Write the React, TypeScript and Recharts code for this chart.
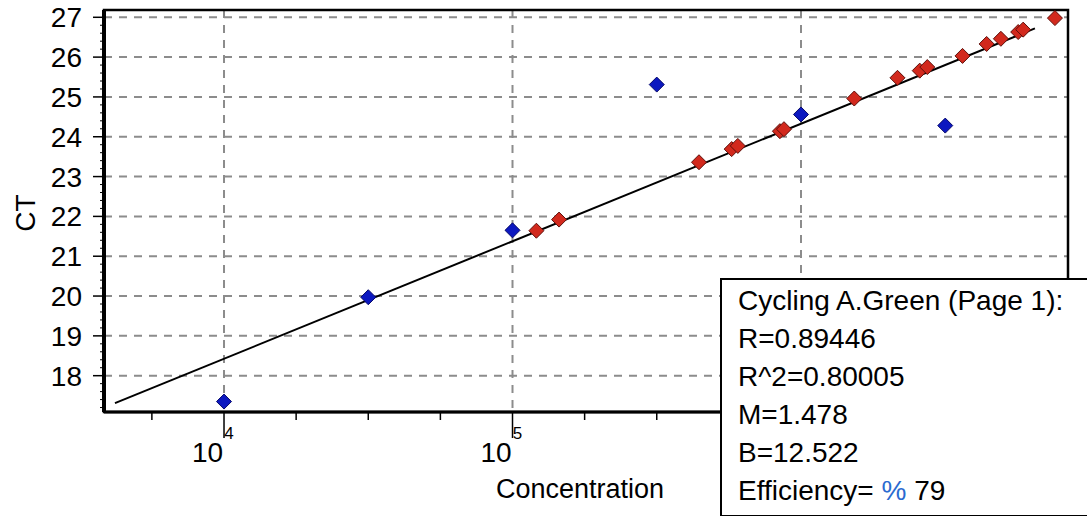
import { ScatterChart, Scatter, XAxis, YAxis, CartesianGrid, ReferenceArea } from "recharts";

const FONT = "'Liberation Sans', Arial, Helvetica, sans-serif";

// concentration (log) and CT axis limits
const xDomain: [number, number] = [3837, 8424000];
const yDomain: [number, number] = [17.088, 27.183];

// decades with a grid line; the 10^6 label sits under the stats box, so only two are labelled
const xMajorTicks = [10000, 100000, 1000000];
const xExponents = ["4", "5"];
const xMinorTicks = [5623, 17783, 31623, 56234, 177828, 316228, 562341, 1778279, 3162278, 5623413];

const yMajorTicks = [18, 19, 20, 21, 22, 23, 24, 25, 26, 27];
const yMinorTicks: number[] = [];
for (let k = 86; k <= 135; k++) {
  if (k % 5 !== 0) yMinorTicks.push(k / 5);
}

// standards
const stdConc = [10000, 31623, 100000, 316228, 1000000, 3162278];
const stdCt = [17.35, 19.97, 21.65, 25.31, 24.56, 24.28];

// unknowns
const unkConc = [
  121000, 145000, 443000, 575000, 604000, 845000, 873000, 1530000, 2160000,
  2580000, 2740000, 3630000, 4400000, 4930000, 5660000, 5890000, 7590000,
];
const unkCt = [
  21.64, 21.92, 23.36, 23.69, 23.77, 24.14, 24.19, 24.96, 25.48,
  25.66, 25.75, 26.03, 26.33, 26.46, 26.63, 26.69, 26.98,
];

// regression line end points
const fitConc = [4188, 6470000];
const fitCt = [17.31, 26.72];

const statsTitle = "Cycling A.Green (Page 1):";
const statsLines = ["R=0.89446", "R^2=0.80005", "M=1.478", "B=12.522"];
const efficiency = 79;

const stdData = stdConc.map((x, i) => ({ x, y: stdCt[i] }));
const unkData = unkConc.map((x, i) => ({ x, y: unkCt[i] }));
const fitData = fitConc.map((x, i) => ({ x, y: fitCt[i] }));

const diamond = (fill: string, stroke: string) => (p: any) => {
  const { cx, cy } = p;
  const r = 7.5;
  return (
    <polygon
      points={`${cx},${cy - r} ${cx + r},${cy} ${cx},${cy + r} ${cx - r},${cy}`}
      fill={fill}
      stroke={stroke}
      strokeWidth={1}
    />
  );
};

function XTick(props: any) {
  const { x, y, payload } = props;
  const i = xMajorTicks.indexOf(payload.value);
  if (i < 0) {
    return <line x1={x} y1={y} x2={x} y2={y + 8} stroke="#000" strokeWidth={1.5} />;
  }
  return (
    <g>
      <line x1={x} y1={y} x2={x} y2={y + 26} stroke="#000" strokeWidth={1.5} />
      {xExponents[i] && (
        <text x={x - 32} y={y + 50} fontSize={28} fontFamily={FONT} fill="#000">
          10
          <tspan dx={1} dy={-23} fontSize={17}>
            {xExponents[i]}
          </tspan>
        </text>
      )}
    </g>
  );
}

function YTick(props: any) {
  const { x, y, payload } = props;
  if (!Number.isInteger(payload.value)) {
    return <line x1={x - 4} y1={y} x2={x} y2={y} stroke="#000" strokeWidth={1} />;
  }
  return (
    <g>
      <line x1={x - 11} y1={y} x2={x} y2={y} stroke="#000" strokeWidth={1.5} />
      <text x={x - 22} y={y} dy="0.36em" textAnchor="end" fontSize={28} fontFamily={FONT} fill="#000">
        {payload.value}
      </text>
    </g>
  );
}

export default function App() {
  return (
    <div
      style={{
        position: "absolute",
        left: 0,
        top: 0,
        width: 1087,
        height: 516,
        background: "#fff",
        fontFamily: FONT,
      }}
    >
      <ScatterChart width={1087} height={516} margin={{ top: 10, right: 19, bottom: 0, left: 0 }}>
        <CartesianGrid
          stroke="#8c8c8c"
          strokeWidth={2}
          strokeDasharray="8 7"
          horizontalValues={yMajorTicks}
          verticalValues={xMajorTicks}
        />
        <XAxis
          type="number"
          dataKey="x"
          scale="log"
          domain={xDomain}
          allowDataOverflow
          ticks={[...xMajorTicks, ...xMinorTicks].sort((a, b) => a - b)}
          interval={0}
          tick={XTick}
          tickSize={0}
          tickMargin={0}
          tickLine={false}
          axisLine={{ stroke: "#000", strokeWidth: 3 }}
          height={104}
          label={(p: any) => {
            const vb = p.viewBox;
            return (
              <text
                x={vb.x + vb.width / 2 - 6}
                y={vb.y + 86}
                textAnchor="middle"
                fontSize={27}
                fontFamily={FONT}
                fill="#000"
              >
                Concentration
              </text>
            );
          }}
        />
        <YAxis
          type="number"
          dataKey="y"
          domain={yDomain}
          allowDataOverflow
          ticks={[...yMajorTicks, ...yMinorTicks].sort((a, b) => a - b)}
          interval={0}
          tick={YTick}
          tickSize={0}
          tickMargin={0}
          tickLine={false}
          axisLine={{ stroke: "#000", strokeWidth: 4 }}
          width={104}
          label={(p: any) => {
            const vb = p.viewBox;
            const cx = vb.x + 25;
            const cy = vb.y + vb.height / 2 + 2;
            return (
              <text
                x={cx}
                y={cy}
                dy="0.36em"
                textAnchor="middle"
                fontSize={28}
                fontFamily={FONT}
                fill="#000"
                transform={`rotate(-90 ${cx} ${cy})`}
              >
                CT
              </text>
            );
          }}
        />
        <ReferenceArea
          x1={xDomain[0]}
          x2={xDomain[1]}
          y1={yDomain[0]}
          y2={yDomain[1]}
          fill="none"
          fillOpacity={0}
          stroke="#000"
          strokeWidth={2.5}
        />
        <Scatter
          data={fitData}
          line={{ stroke: "#000", strokeWidth: 2 }}
          shape={() => <g />}
          isAnimationActive={false}
        />
        <Scatter data={unkData} shape={diamond("#d2291d", "#5e0f0a")} isAnimationActive={false} />
        <Scatter data={stdData} shape={diamond("#0c18c0", "#05086a")} isAnimationActive={false} />
      </ScatterChart>

      <div
        style={{
          position: "absolute",
          left: 720,
          top: 278,
          width: 359,
          height: 233,
          border: "2px solid #000",
          background: "#fff",
          padding: "2px 0 0 16px",
          boxSizing: "content-box",
          fontSize: 28,
          lineHeight: "38px",
          color: "#000",
          whiteSpace: "nowrap",
          overflow: "hidden",
        }}
      >
        <div>{statsTitle}</div>
        {statsLines.map((t) => (
          <div key={t}>{t}</div>
        ))}
        <div>
          Efficiency= <span style={{ color: "#2a6ad0" }}>%</span> {efficiency}
        </div>
      </div>
    </div>
  );
}
